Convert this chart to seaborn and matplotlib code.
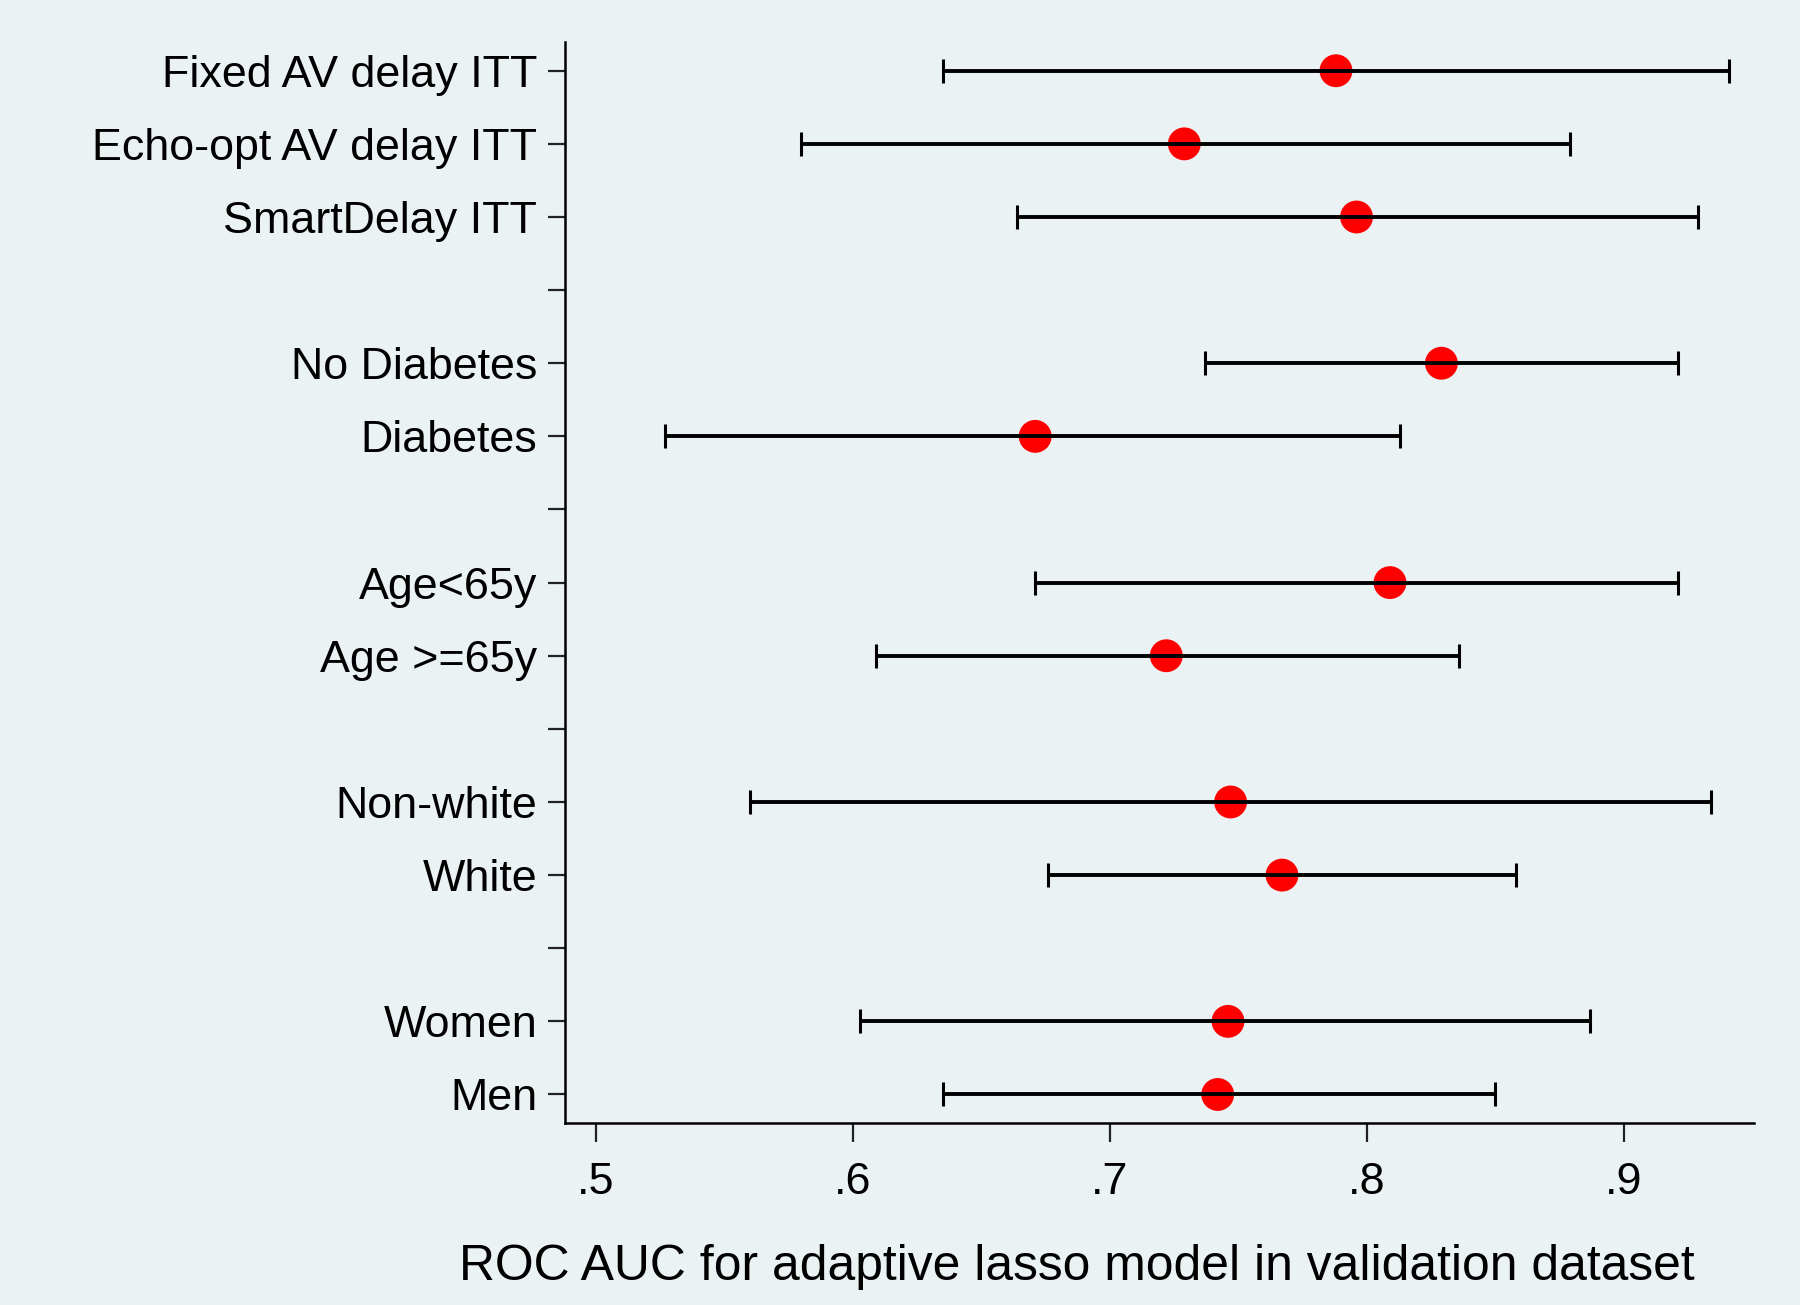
import matplotlib
matplotlib.use("Agg")
import matplotlib.pyplot as plt
import seaborn as sns
import pandas as pd
import numpy as np

labels = ["Fixed AV delay ITT", "Echo-opt AV delay ITT", "SmartDelay ITT", "",
          "No Diabetes", "Diabetes", "",
          "Age<65y", "Age >=65y", "",
          "Non-white", "White", "",
          "Women", "Men"]
row_labels = ["Fixed AV delay ITT", "Echo-opt AV delay ITT", "SmartDelay ITT",
              "No Diabetes", "Diabetes", "Age<65y", "Age >=65y",
              "Non-white", "White", "Women", "Men"]
auc = [0.788, 0.729, 0.796, 0.829, 0.671, 0.809, 0.722, 0.747, 0.767, 0.746, 0.742]
ci_low = [0.635, 0.580, 0.664, 0.737, 0.527, 0.671, 0.609, 0.560, 0.676, 0.603, 0.635]
ci_high = [0.941, 0.879, 0.929, 0.921, 0.813, 0.921, 0.836, 0.934, 0.858, 0.887, 0.850]
xticks = [0.5, 0.6, 0.7, 0.8, 0.9]
xticklabels = [".5", ".6", ".7", ".8", ".9"]

ypos = [labels.index(l) + 1 for l in row_labels]
df = pd.DataFrame({"label": row_labels, "y": ypos, "auc": auc,
                   "lo": ci_low, "hi": ci_high})

bg = "#EAF2F3"
sns.set_theme(style="white")
plt.rcParams["font.family"] = ["Liberation Sans", "DejaVu Sans"]
plt.rcParams["text.color"] = "black"
plt.rcParams["axes.labelcolor"] = "black"
plt.rcParams["xtick.color"] = "black"
plt.rcParams["ytick.color"] = "black"

fig = plt.figure(figsize=(18, 13.05), dpi=100, facecolor=bg)
ax = fig.add_axes([565/1800, 1 - 1123/1305, (1754-565)/1800, (1123-42)/1305])
ax.set_facecolor(bg)

sns.scatterplot(data=df, x="auc", y="y", ax=ax, color="#FF0000", s=560,
                edgecolor="none", zorder=2, legend=False)
ax.errorbar(df["auc"], df["y"],
            xerr=[df["auc"] - df["lo"], df["hi"] - df["auc"]],
            fmt="none", ecolor="black", elinewidth=2.8, capsize=8.5,
            capthick=2.2, zorder=3)

ax.set_xlim(0.4881, 0.9506)
ax.set_ylim(15.39, 0.607)
ax.set_yticks(range(1, len(labels) + 1))
ax.set_yticklabels(labels)
ax.set_xticks(xticks)
ax.set_xticklabels(xticklabels)

for s in ["top", "right"]:
    ax.spines[s].set_visible(False)
for s in ["left", "bottom"]:
    ax.spines[s].set_color("black")
    ax.spines[s].set_linewidth(1.8)

ax.tick_params(axis="y", direction="out", length=12, width=1.6, color="#222222",
               labelsize=32.3, labelcolor="black", pad=8, left=True)
ax.tick_params(axis="x", direction="out", length=14, width=1.6, color="#222222",
               labelsize=32.3, labelcolor="black", pad=14, bottom=True)

ax.set_xlabel("ROC AUC for adaptive lasso model in validation dataset",
              fontsize=35.8, color="black")
ax.set_ylabel("")
ax.xaxis.set_label_coords((1077 - 565) / 1189, -0.133)
ax.xaxis.label.set_verticalalignment("center")

fig.savefig("out.png", dpi=100, facecolor=bg)
